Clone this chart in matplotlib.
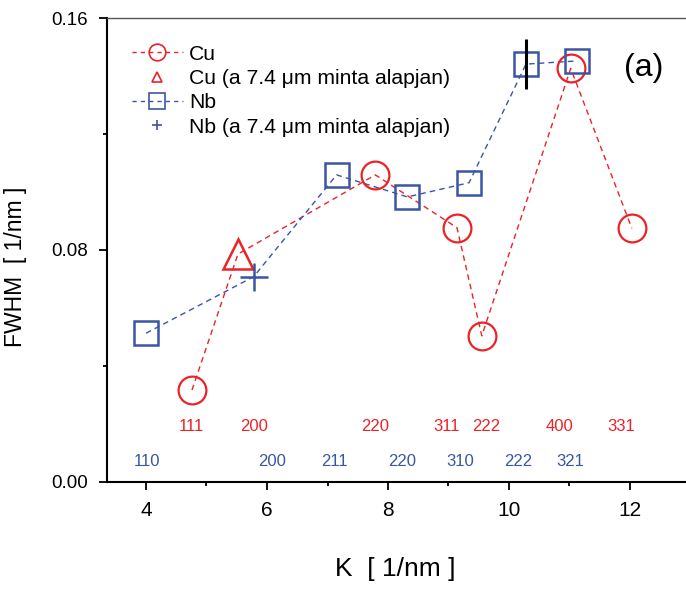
import matplotlib
matplotlib.use('Agg')
import matplotlib.pyplot as plt
from matplotlib.lines import Line2D
from matplotlib.ticker import MultipleLocator, FormatStrFormatter

plt.rcParams['font.family'] = ['Liberation Sans', 'DejaVu Sans']

# FWHM vs scattering vector K, Cu and Nb reflections
cu_k = [4.76, 5.52, 7.79, 9.14, 9.55, 11.02, 12.03]
cu_fwhm = [0.0317, 0.0786, 0.1059, 0.0877, 0.0504, 0.1426, 0.0875]
cu_base = 1  # point measured at the base of the 7.4 um sample

nb_k = [4.0, 5.78, 7.15, 8.32, 9.34, 10.28, 11.13]
nb_fwhm = [0.0513, 0.0708, 0.1059, 0.0983, 0.1032, 0.1441, 0.1452]
nb_base = 1

# error bar on the Nb 222 point
nb_err_k = [10.28]
nb_err_fwhm = [0.1441]
nb_err = [0.0085]

# Miller indices written above the K axis
cu_hkl = ['111', '200', '220', '311', '222', '400', '331']
cu_hkl_k = [4.755, 5.785, 7.785, 8.97, 9.62, 10.83, 11.85]
nb_hkl = ['110', '200', '211', '220', '310', '222', '321']
nb_hkl_k = [4.01, 6.08, 7.11, 8.24, 9.2, 10.15, 11.02]

red = '#ec2227'
blue = '#3b55a6'

fig = plt.figure(figsize=(6.86, 5.91), dpi=100)
ax = fig.add_axes([107/686, 1-482/591, 1-107/686, (482-18)/591])

ax.plot(cu_k, cu_fwhm, ls=(0, (4, 3)), lw=1, color=red, zorder=2)
ax.plot(nb_k, nb_fwhm, ls=(0, (4, 3)), lw=1, color=blue, zorder=2)

cu_k_main = [k for i, k in enumerate(cu_k) if i != cu_base]
cu_f_main = [f for i, f in enumerate(cu_fwhm) if i != cu_base]
nb_k_main = [k for i, k in enumerate(nb_k) if i != nb_base]
nb_f_main = [f for i, f in enumerate(nb_fwhm) if i != nb_base]

ax.plot(cu_k_main, cu_f_main, 'o', ms=20, mfc='none', mec=red, mew=1.6, zorder=3)
ax.plot([cu_k[cu_base]], [cu_fwhm[cu_base]], '^', ms=22, mfc='none', mec=red, mew=1.8, zorder=3)
ax.plot(nb_k_main, nb_f_main, 's', ms=17, mfc='none', mec=blue, mew=1.8, zorder=3)
ax.plot([nb_k[nb_base]], [nb_fwhm[nb_base]], '+', ms=20, mec=blue, mew=1.8, zorder=3)

ax.errorbar(nb_err_k, nb_err_fwhm, yerr=nb_err, fmt='none', ecolor='black', elinewidth=2.2, capsize=0, zorder=4)

for lab, k in zip(cu_hkl, cu_hkl_k):
    ax.text(k, 0.019, lab, color=red, fontsize=12, ha='center', va='center')
for lab, k in zip(nb_hkl, nb_hkl_k):
    ax.text(k, 0.0069, lab, color=blue, fontsize=12, ha='center', va='center')

ax.text(644, 591 - 68, '(a)', transform=None, fontsize=23, ha='center', va='center')

ax.set_xlim(4 - 39/60.5, 4 + (686-146)/60.5)
ax.set_ylim(0, 0.16)
ax.xaxis.set_major_locator(MultipleLocator(2))
ax.xaxis.set_minor_locator(MultipleLocator(1))
ax.yaxis.set_major_locator(MultipleLocator(0.08))
ax.yaxis.set_minor_locator(MultipleLocator(0.04))
ax.yaxis.set_major_formatter(FormatStrFormatter('%.2f'))
ax.tick_params(which='major', direction='out', length=6, width=1.3, pad=8)
ax.tick_params(which='minor', direction='out', length=3, width=1.3)
ax.tick_params(axis='x', labelsize=15)
ax.tick_params(axis='y', labelsize=13.5)

ax.spines['right'].set_visible(False)
ax.spines['top'].set_color('#555555')
ax.spines['top'].set_linewidth(1)
ax.spines['left'].set_linewidth(1.5)
ax.spines['bottom'].set_linewidth(1.5)

ax.set_xlabel('K  [ 1/nm ]', fontsize=19, va='top')
ax.xaxis.set_label_coords(0.497, -0.162)
ax.set_ylabel('FWHM  [ 1/nm ]', fontsize=16.5)
ax.yaxis.set_label_coords(-0.138, 0.463)

handles = [
    Line2D([], [], ls=(0, (3, 3)), lw=1, color=red, marker='o', ms=12, mfc='none', mec=red, mew=1.2),
    Line2D([], [], ls='none', marker='^', ms=7, mfc='none', mec=red, mew=1.2),
    Line2D([], [], ls=(0, (3, 3)), lw=1, color=blue, marker='s', ms=11, mfc='none', mec=blue, mew=1.2),
    Line2D([], [], ls='none', marker='+', ms=7, mec=blue, mew=1.2),
]
labels = ['Cu', 'Cu (a 7.4 \u03bcm minta alapjan)', 'Nb', 'Nb (a 7.4 \u03bcm minta alapjan)']
ax.legend(handles, labels, loc='upper left', bbox_to_anchor=(0.025, 0.965), frameon=False,
          fontsize=15.2, handlelength=2.4, handletextpad=0.3, labelspacing=0.25, borderpad=0)

fig.savefig('out.png', dpi=100)
